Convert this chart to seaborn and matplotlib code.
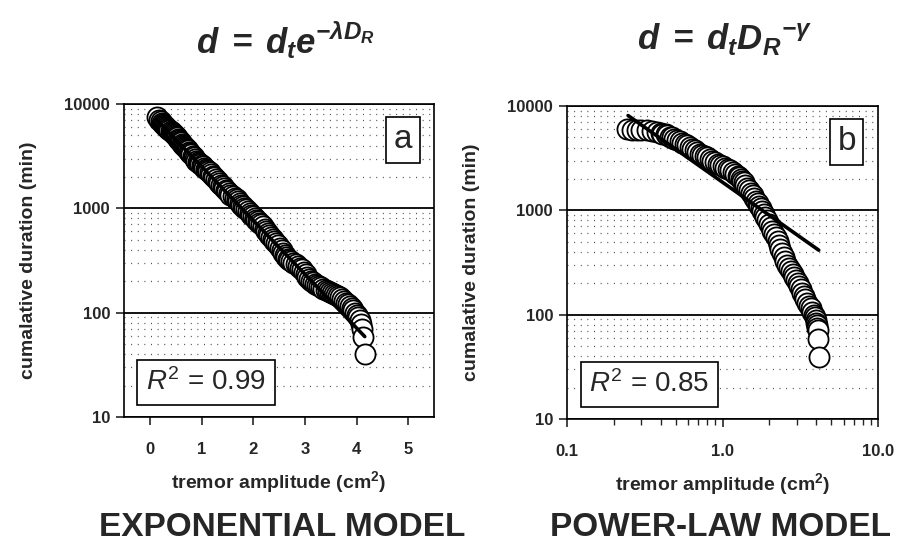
import numpy as np
import pandas as pd
import matplotlib
matplotlib.use("Agg")
import matplotlib.pyplot as plt
import seaborn as sns
from matplotlib.ticker import FixedLocator, FixedFormatter, LogLocator, NullFormatter

# ---------------- data ----------------
exp_amp = [0.13, 0.18, 0.21, 0.24, 0.26, 0.28, 0.30, 0.32, 0.34, 0.36, 0.38, 0.40,
           0.42, 0.44, 0.46, 0.48, 0.50, 0.52, 0.54, 0.56, 0.58, 0.60, 0.62, 0.64,
           0.66, 0.68, 0.70, 0.72, 0.74, 0.76, 0.78, 0.80, 0.83, 0.85, 0.88, 0.90,
           0.93, 0.95, 0.98, 1.00, 1.03, 1.05, 1.08, 1.10, 1.13, 1.16, 1.19, 1.22,
           1.25, 1.28, 1.31, 1.34, 1.37, 1.41, 1.44, 1.47, 1.50, 1.53, 1.56, 1.60,
           1.64, 1.68, 1.71, 1.74, 1.77, 1.80, 1.83, 1.86, 1.90, 1.93, 1.96, 2.00,
           2.03, 2.06, 2.09, 2.12, 2.15, 2.19, 2.22, 2.25, 2.28, 2.31, 2.35, 2.38,
           2.41, 2.45, 2.48, 2.52, 2.55, 2.58, 2.61, 2.64, 2.67, 2.70, 2.74, 2.78,
           2.82, 2.86, 2.90, 2.94, 2.98, 3.02, 3.05, 3.09, 3.12, 3.16, 3.20, 3.24,
           3.28, 3.32, 3.36, 3.40, 3.44, 3.48, 3.52, 3.56, 3.60, 3.64, 3.68, 3.72,
           3.76, 3.80, 3.84, 3.87, 3.91, 3.94, 3.97, 4.00, 4.03, 4.06, 4.08, 4.10,
           4.12, 4.16]
exp_dur = [7500, 7100, 6800, 6600, 6400, 6250, 6150, 6050, 5900, 5800, 5650, 5550,
           5400, 5300, 5150, 5050, 4950, 4800, 4650, 4550, 4400, 4300, 4150, 4050,
           3950, 3850, 3780, 3700, 3600, 3500, 3400, 3300, 3200, 3100, 2950, 2850,
           2780, 2700, 2650, 2600, 2520, 2450, 2400, 2350, 2300, 2250, 2150, 2050,
           1980, 1900, 1820, 1750, 1690, 1620, 1560, 1500, 1450, 1400, 1350, 1300,
           1270, 1230, 1170, 1120, 1080, 1050, 1010, 980, 940, 910, 870, 840,
           810, 780, 750, 720, 700, 670, 640, 610, 580, 550, 530, 510,
           490, 470, 445, 420, 395, 370, 355, 340, 330, 320, 310, 300,
           290, 280, 270, 260, 248, 235, 222, 210, 202, 195, 190, 185,
           180, 175, 170, 165, 161, 158, 155, 152, 148, 145, 140, 135,
           130, 125, 120, 115, 110, 105, 100, 95, 90, 85, 78, 70,
           59, 40]
exp_fit_amp = [0.13, 4.16]
exp_fit_dur = [7080, 59]

pow_amp = [0.244, 0.26, 0.283, 0.30, 0.328, 0.35, 0.38, 0.40, 0.41, 0.43, 0.44, 0.46,
           0.47, 0.49, 0.51, 0.53, 0.55, 0.57, 0.59, 0.615, 0.64, 0.665, 0.69, 0.715,
           0.74, 0.77, 0.80, 0.83, 0.86, 0.895, 0.93, 0.965, 1.00, 1.04, 1.08, 1.12,
           1.16, 1.20, 1.25, 1.28, 1.31, 1.34, 1.37, 1.40, 1.44, 1.48, 1.52, 1.56,
           1.60, 1.64, 1.68, 1.72, 1.76, 1.80, 1.84, 1.89, 1.94, 1.99, 2.04, 2.09,
           2.15, 2.20, 2.26, 2.31, 2.36, 2.41, 2.47, 2.53, 2.60, 2.67, 2.74, 2.82,
           2.90, 2.97, 3.05, 3.12, 3.20, 3.26, 3.33, 3.41, 3.50, 3.60, 3.70, 3.78,
           3.85, 3.92, 3.98, 4.02, 4.05, 4.08, 4.10, 4.12, 4.16]
pow_dur = [5960, 5950, 5900, 5880, 5850, 5800, 5650, 5550, 5450, 5350, 5250, 5100,
           5000, 4850, 4700, 4580, 4450, 4320, 4200, 4050, 3900, 3750, 3600, 3500,
           3400, 3320, 3250, 3120, 3000, 2900, 2800, 2720, 2650, 2570, 2500, 2420,
           2350, 2250, 2150, 2080, 2000, 1920, 1850, 1750, 1650, 1560, 1480, 1390,
           1300, 1230, 1170, 1110, 1050, 990, 930, 860, 800, 740, 690, 640,
           590, 550, 510, 470, 430, 390, 355, 325, 300, 282, 265, 248,
           230, 215, 200, 188, 175, 162, 150, 140, 130, 122, 115, 107,
           100, 94, 89, 84, 80, 75, 71, 58, 39]
pow_fit_amp = [0.247, 4.16]
pow_fit_dur = [8100, 415]

y_ticks = [10, 100, 1000, 10000]
y_ticklabels = ["10", "100", "1000", "10000"]
exp_xticks = [0, 1, 2, 3, 4, 5]
exp_xticklabels = ["0", "1", "2", "3", "4", "5"]
pow_xticks = [0.1, 1.0, 10.0]
pow_xticklabels = ["0.1", "1.0", "10.0"]

titles_formula = [r"$\mathbfit{d\;=\;d_t e^{-\lambda D_R}}$",
                  r"$\mathbfit{d\;=\;d_t D_R{}^{-\gamma}}$"]
titles_model = ["EXPONENTIAL MODEL", "POWER-LAW MODEL"]
r2_texts = [r"$R^2$ = 0.99", r"$R^2$ = 0.85"]
panel_letters = ["a", "b"]
ylabel = "cumalative duration (min)"
xlabel = r"tremor amplitude (cm$^\mathbf{2}$)"

# ---------------- style ----------------
sns.set_style("ticks")
plt.rcParams["font.family"] = ["Liberation Sans", "DejaVu Sans"]
plt.rcParams["mathtext.fontset"] = "custom"
plt.rcParams["mathtext.rm"] = "Liberation Sans"
plt.rcParams["mathtext.it"] = "Liberation Sans:italic"
plt.rcParams["mathtext.bf"] = "Liberation Sans:bold"
plt.rcParams["mathtext.bfit"] = "Liberation Sans:italic:bold"

fig = plt.figure(figsize=(9, 5.52), dpi=100)
axA = fig.add_axes([124 / 900, 1 - 417 / 552, 310 / 900, 313 / 552])
axB = fig.add_axes([567 / 900, 1 - 419 / 552, 311 / 900, 313 / 552])

dfA = pd.DataFrame({"amp": exp_amp, "dur": exp_dur})
dfB = pd.DataFrame({"amp": pow_amp, "dur": pow_dur})
fitA = pd.DataFrame({"amp": exp_fit_amp, "dur": exp_fit_dur})
fitB = pd.DataFrame({"amp": pow_fit_amp, "dur": pow_fit_dur})

for ax, df, fit, logx in [(axA, dfA, fitA, False), (axB, dfB, fitB, True)]:
    ax.set_yscale("log")
    if logx:
        ax.set_xscale("log")
    ax.yaxis.grid(True, which="major", color="black", linewidth=1.3, zorder=0)
    ax.yaxis.grid(True, which="minor", color="0.3", linewidth=0.9,
                  linestyle=(0, (0.8, 4.5)), zorder=0)
    ax.xaxis.grid(False)
    ax.set_axisbelow(True)
    sns.scatterplot(data=df, x="amp", y="dur", ax=ax, s=210, marker="o",
                    facecolor="white", edgecolor="black", linewidth=1.3,
                    zorder=3, legend=False)
    sns.lineplot(data=fit, x="amp", y="dur", ax=ax, color="black",
                 linewidth=2.6, zorder=4, legend=False)
    ax.set_ylim(10, 10000)
    ax.yaxis.set_major_locator(FixedLocator(y_ticks))
    ax.yaxis.set_major_formatter(FixedFormatter(y_ticklabels))
    ax.yaxis.set_minor_locator(LogLocator(base=10, subs=np.arange(2, 10)))
    ax.yaxis.set_minor_formatter(NullFormatter())
    ax.tick_params(axis="y", which="major", direction="out", length=6, width=1.2,
                   labelsize=12, pad=4)
    ax.tick_params(axis="y", which="minor", length=0)
    ax.tick_params(axis="x", which="major", direction="out", length=6, width=1.2,
                   labelsize=12, pad=12)
    for sp in ax.spines.values():
        sp.set_visible(True)
        sp.set_color("black")
        sp.set_linewidth(1.2)
    ax.set_ylabel(ylabel, fontsize=14, fontweight="bold", labelpad=20)
    ax.set_xlabel(xlabel, fontsize=14, fontweight="bold", labelpad=9)

axA.set_xlim(-0.5, 5.5)
axA.xaxis.set_major_locator(FixedLocator(exp_xticks))
axA.xaxis.set_major_formatter(FixedFormatter(exp_xticklabels))
axB.set_xlim(0.1, 10)
axB.xaxis.set_major_locator(FixedLocator(pow_xticks))
axB.xaxis.set_major_formatter(FixedFormatter(pow_xticklabels))
axB.xaxis.set_minor_locator(LogLocator(base=10, subs=np.arange(2, 10)))
axB.xaxis.set_minor_formatter(NullFormatter())
axB.tick_params(axis="x", which="minor", direction="out", length=4, width=1.0)
for ax in (axA, axB):
    for lab in ax.get_yticklabels() + ax.get_xticklabels():
        lab.set_fontweight("bold")

for ax, r2, letter in [(axA, r2_texts[0], panel_letters[0]), (axB, r2_texts[1], panel_letters[1])]:
    ax.text(0.265, 0.11, r2, transform=ax.transAxes, ha="center", va="center",
            fontsize=20, zorder=6,
            bbox=dict(boxstyle="square,pad=0.32", facecolor="white",
                      edgecolor="black", linewidth=1.2))
    ax.text(0.90, 0.885, letter, transform=ax.transAxes, ha="center", va="center",
            fontsize=24, zorder=6,
            bbox=dict(boxstyle="square,pad=0.22", facecolor="white",
                      edgecolor="black", linewidth=1.2))

fig.text(0.317, 0.928, titles_formula[0], ha="center", va="center", fontsize=25)
fig.text(0.805, 0.928, titles_formula[1], ha="center", va="center", fontsize=25)
fig.text(0.314, 0.045, titles_model[0], ha="center", va="center", fontsize=24,
         fontweight="bold")
fig.text(0.801, 0.045, titles_model[1], ha="center", va="center", fontsize=24,
         fontweight="bold")

fig.savefig("out.png", dpi=100)
